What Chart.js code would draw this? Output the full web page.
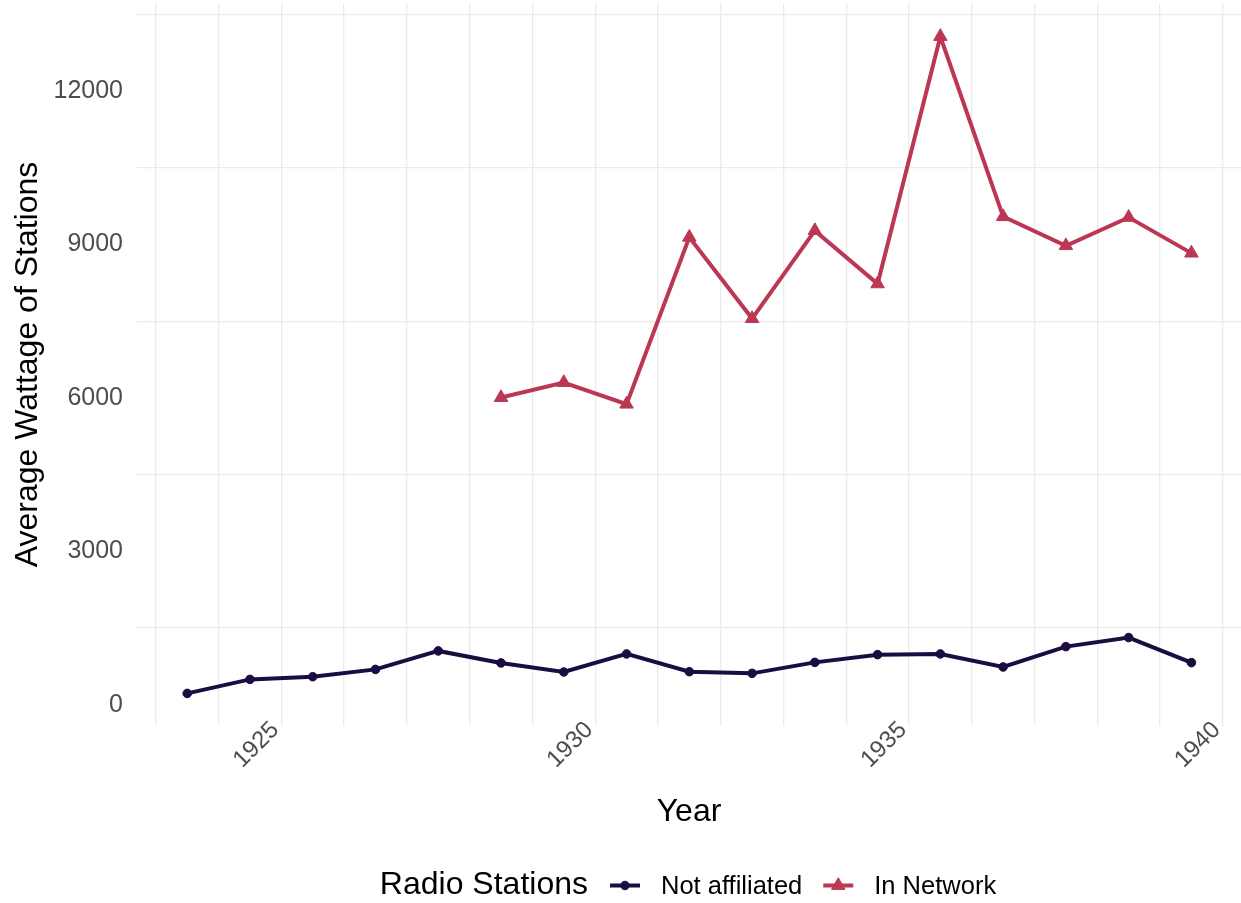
<!DOCTYPE html>
<html>
<head>
<meta charset="utf-8">
<script src="https://cdn.jsdelivr.net/npm/chart.js@4.4.0/dist/chart.umd.min.js"></script>
<style>
  html, body { margin: 0; padding: 0; background: #ffffff; }
  #wrap { width: 1241px; height: 903px; position: relative; }
</style>
</head>
<body>
<div id="wrap"><canvas id="c" width="1241" height="903"></canvas></div>
<script>
// ---- Data ----
const years = [1923.5, 1924.5, 1925.5, 1926.5, 1927.5, 1928.5, 1929.5, 1930.5, 1931.5,
               1932.5, 1933.5, 1934.5, 1935.5, 1936.5, 1937.5, 1938.5, 1939.5];
const notAffiliated = [222, 496, 549, 692, 1053, 818, 641, 994, 647,
                       614, 829, 980, 994, 739, 1137, 1314, 824];
const inNetwork = [null, null, null, null, null, 6006, 6300, 5877, 9140,
                   7550, 9270, 8229, 13065, 9543, 8975, 9529, 8830];
const seriesNames = ['Not affiliated', 'In Network'];
const legendTitle = 'Radio Stations';
const xTitle = 'Year';
const yTitle = 'Average Wattage of Stations';
const xTicks = [1923, 1924, 1925, 1926, 1927, 1928, 1929, 1930, 1931, 1932,
                1933, 1934, 1935, 1936, 1937, 1938, 1939, 1940];
const xLabelTicks = [1925, 1930, 1935, 1940];
const yTicks = [0, 1500, 3000, 4500, 6000, 7500, 9000, 10500, 12000, 13500];
const yLabelTicks = [0, 3000, 6000, 9000, 12000];

// ---- Styles ----
const COLORS = ['#1B0C41', '#BB3754'];
const FONT = '"Liberation Sans", Arial, Helvetica, sans-serif';
const GRID = '#EBEBEB';

function toPoints(xs, ys) {
  const out = [];
  xs.forEach((x, i) => { if (ys[i] !== null && ys[i] !== undefined) out.push({ x: x, y: ys[i] }); });
  return out;
}

const legendPlugin = {
  id: 'ggLegend',
  afterDraw(chart) {
    const ctx = chart.ctx;
    ctx.save();
    ctx.font = '32px ' + FONT;
    const titleW = ctx.measureText(legendTitle).width;
    ctx.font = '25.5px ' + FONT;
    const w1 = ctx.measureText(seriesNames[0]).width;
    const w2 = ctx.measureText(seriesNames[1]).width;
    const keyW = 30, gTitle = 22, gKey = 21, gItem = 21;
    const total = titleW + gTitle + keyW + gKey + w1 + gItem + keyW + gKey + w2;
    let x = 688 - total / 2;
    const keyY = 885.5;
    ctx.textBaseline = 'alphabetic';
    ctx.textAlign = 'left';
    ctx.fillStyle = '#000000';
    ctx.font = '32px ' + FONT;
    ctx.fillText(legendTitle, x, 894);
    x += titleW + gTitle;
    const ds = chart.data.datasets;
    [w1, w2].forEach((w, i) => {
      const d = ds[i];
      ctx.strokeStyle = d.borderColor;
      ctx.lineWidth = d.borderWidth;
      ctx.beginPath();
      ctx.moveTo(x, keyY);
      ctx.lineTo(x + keyW, keyY);
      ctx.stroke();
      ctx.fillStyle = d.pointBackgroundColor;
      ctx.strokeStyle = d.pointBorderColor;
      ctx.lineWidth = d.pointBorderWidth;
      ctx.beginPath();
      const cx = x + keyW / 2;
      if (d.pointStyle === 'triangle') {
        const r = d.pointRadius;
        ctx.moveTo(cx, keyY - r);
        ctx.lineTo(cx + r * Math.sin(2 * Math.PI / 3), keyY - r * Math.cos(2 * Math.PI / 3));
        ctx.lineTo(cx + r * Math.sin(4 * Math.PI / 3), keyY - r * Math.cos(4 * Math.PI / 3));
        ctx.closePath();
      } else {
        ctx.arc(cx, keyY, d.pointRadius, 0, Math.PI * 2);
      }
      ctx.fill();
      ctx.stroke();
      x += keyW + gKey;
      ctx.fillStyle = '#000000';
      ctx.font = '25.5px ' + FONT;
      ctx.fillText(seriesNames[i], x, 893.5);
      x += w + gItem;
    });
    ctx.restore();
  }
};

const chart = new Chart(document.getElementById('c'), {
  type: 'line',
  data: {
    datasets: [
      {
        label: seriesNames[0],
        data: toPoints(years, notAffiliated),
        borderColor: COLORS[0],
        backgroundColor: COLORS[0],
        pointBackgroundColor: COLORS[0],
        pointBorderColor: COLORS[0],
        borderWidth: 4,
        pointStyle: 'circle',
        pointRadius: 4.3,
        pointBorderWidth: 1,
        tension: 0
      },
      {
        label: seriesNames[1],
        data: toPoints(years, inNetwork),
        borderColor: COLORS[1],
        backgroundColor: COLORS[1],
        pointBackgroundColor: COLORS[1],
        pointBorderColor: COLORS[1],
        borderWidth: 4,
        pointStyle: 'triangle',
        pointRadius: 7.8,
        pointBorderWidth: 1,
        tension: 0
      }
    ]
  },
  options: {
    responsive: false,
    devicePixelRatio: 1,
    animation: false,
    events: [],
    layout: { autoPadding: false, padding: { top: 3, left: 0, right: 0, bottom: 66 } },
    plugins: {
      legend: { display: false },
      tooltip: { enabled: false }
    },
    scales: {
      x: {
        type: 'linear',
        min: 1922.7,
        max: 1940.29,
        afterBuildTicks: (s) => { s.ticks = xTicks.map(v => ({ value: v })); },
        afterFit: (s) => {
          s.height = 111; s.paddingLeft = 0; s.paddingRight = 0;
          s._computeLabelArea = function () { return undefined; };
        },
        border: { display: false },
        grid: { color: GRID, lineWidth: 1.3, drawTicks: false },
        ticks: {
          autoSkip: false,
          minRotation: 45,
          maxRotation: 45,
          padding: -10,
          labelOffset: -6,
          color: '#4D4D4D',
          font: { family: FONT, size: 24 },
          callback: (v) => xLabelTicks.includes(v) ? String(v) : ''
        },
        title: {
          display: true,
          text: xTitle,
          color: '#000000',
          font: { family: FONT, size: 32 },
          padding: { top: 4, bottom: 6 }
        }
      },
      y: {
        type: 'linear',
        min: -415,
        max: 13720,
        afterBuildTicks: (s) => { s.ticks = yTicks.map(v => ({ value: v })); },
        afterFit: (s) => { s.width = 137; s.paddingTop = 0; s.paddingBottom = 0; },
        border: { display: false },
        grid: {
          drawTicks: false,
          lineWidth: 1.3,
          color: (c) => (c.tick && yLabelTicks.includes(c.tick.value)) ? 'rgba(0,0,0,0)' : GRID
        },
        ticks: {
          padding: 14,
          color: '#4D4D4D',
          font: { family: FONT, size: 25 },
          callback: (v) => yLabelTicks.includes(v) ? String(v) : ''
        },
        title: {
          display: true,
          text: yTitle,
          color: '#000000',
          font: { family: FONT, size: 32 },
          padding: { top: 9, bottom: 4 }
        }
      }
    }
  },
  plugins: [legendPlugin]
});
</script>
</body>
</html>
